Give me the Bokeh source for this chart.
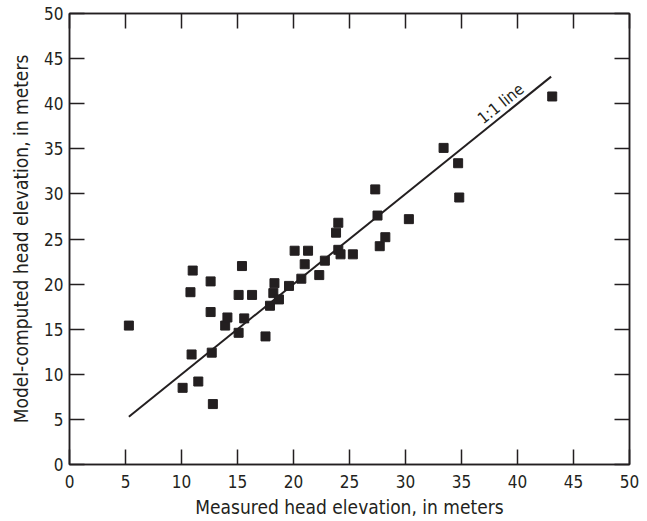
import math
from bokeh.plotting import figure
from bokeh.models import Range1d, LinearAxis, FixedTicker, CustomLabelingPolicy
from bokeh.core.properties import value
from bokeh.embed import file_html
from bokeh.resources import INLINE

measured = [5.3, 10.1, 10.8, 10.9, 11.0, 11.5, 12.6, 12.6, 12.7, 12.8, 13.9, 14.1,
            15.1, 15.1, 15.4, 15.6, 16.3, 17.5, 17.9, 18.2, 18.3, 18.7, 19.6, 20.1,
            20.7, 21.0, 21.3, 22.3, 22.8, 23.8, 24.0, 24.0, 24.2, 25.3, 27.3, 27.5,
            27.7, 28.2, 30.3, 33.4, 34.7, 34.8, 43.1]
computed = [15.4, 8.5, 19.1, 12.2, 21.5, 9.2, 20.3, 16.9, 12.4, 6.7, 15.4, 16.3,
            18.8, 14.6, 22.0, 16.2, 18.8, 14.2, 17.6, 19.0, 20.1, 18.3, 19.8, 23.7,
            20.6, 22.2, 23.7, 21.0, 22.6, 25.7, 26.8, 23.8, 23.3, 23.3, 30.5, 27.6,
            24.2, 25.2, 27.2, 35.1, 33.4, 29.6, 40.8]
line_x = [5.3, 43.0]
line_y = [5.3, 43.0]
ticks = [0, 5, 10, 15, 20, 25, 30, 35, 40, 45, 50]
line_label = "1:1 line"

INK = "#231f20"
FONT = "DejaVu Sans Condensed, Liberation Sans, sans-serif"

p = figure(width=640, height=520, x_range=Range1d(0, 50), y_range=Range1d(0, 50),
           output_backend="svg", toolbar_location=None,
           min_border_left=69, min_border_right=11, min_border_top=13, min_border_bottom=56,
           x_axis_label="Measured head elevation, in meters",
           y_axis_label="Model-computed head elevation, in meters")
p.frame_width = 560
p.frame_height = 451
p.grid.visible = False
p.outline_line_color = INK
p.outline_line_width = 1.5

for ax in (p.xaxis[0], p.yaxis[0]):
    ax.ticker = FixedTicker(ticks=ticks)
    ax.minor_tick_line_color = None
    ax.major_tick_in = 15
    ax.major_tick_out = 0
    ax.major_tick_line_color = INK
    ax.major_tick_line_width = 1.5
    ax.axis_line_color = INK
    ax.axis_line_width = 1.5
    ax.major_label_text_font = FONT
    ax.major_label_text_font_size = "17px"
    ax.major_label_text_color = INK
    ax.axis_label_text_font = FONT
    ax.axis_label_text_font_size = "19px"
    ax.axis_label_text_font_style = "normal"
    ax.axis_label_text_color = INK
p.xaxis[0].major_label_standoff = 10
p.xaxis[0].axis_label_standoff = 5
p.yaxis[0].major_label_standoff = 6
p.yaxis[0].axis_label_standoff = 9

for loc in ("above", "right"):
    ax = LinearAxis(ticker=FixedTicker(ticks=ticks))
    ax.minor_tick_line_color = None
    ax.major_tick_in = 15
    ax.major_tick_out = 0
    ax.major_tick_line_color = INK
    ax.major_tick_line_width = 1.5
    ax.axis_line_color = INK
    ax.axis_line_width = 1.5
    ax.major_label_standoff = 0
    ax.major_label_policy = CustomLabelingPolicy(
        code="for (const i of indices) { indices.unset(i) } return indices")
    p.add_layout(ax, loc)

p.line(line_x, line_y, line_color=INK, line_width=2)
p.scatter(measured, computed, marker="square", size=9, fill_color=INK, line_color=INK)

ang = math.atan2(9.02, 11.2)
p.text(x=[38.5], y=[40.0], text=[line_label], angle=ang,
       text_font=value(FONT), text_font_size="16px", text_color=INK,
       text_align="center", text_baseline="middle")

open("out.html", "w").write(file_html(p, INLINE))
